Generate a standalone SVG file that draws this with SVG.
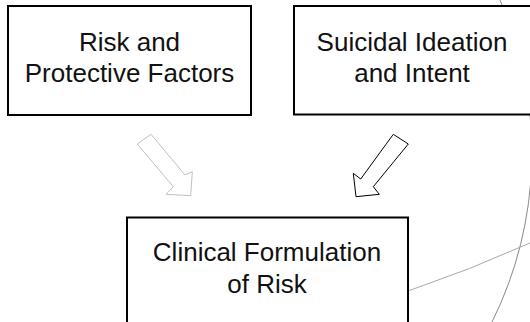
<svg xmlns="http://www.w3.org/2000/svg" width="530" height="322" viewBox="0 0 530 322">
<style>
.box{fill:#fff;stroke:#000;stroke-width:2}
.lbl{font-family:"Liberation Sans",Arial,sans-serif;font-size:26px;fill:#111;text-anchor:middle}
.arrow-light{fill:#fff;stroke:#c0c0c0;stroke-width:1}
.arrow-dark{fill:#fff;stroke:#000;stroke-width:1}
.bg{fill:none;stroke-width:1}
</style>
<rect width="530" height="322" fill="#fff"/>
<g id="background">
<path class="bg" stroke="#8a8a8a" d="M500,0 A380.5,380.5 0 0 1 492,322"/>
<path class="bg" stroke="#a8a8a8" d="M408,291 Q470,270 530,243"/>
</g>
<g id="connectors">
<polygon class="arrow-light" points="151,134.3 185,175 192.3,171.7 190.7,195.7 166,194.3 173.3,186.7 137.3,144"/>
<polygon class="arrow-dark" points="393.3,134.3 408.3,144 373.3,186.7 379.3,194.3 356,196.7 353.3,173.3 360.7,179"/>
</g>
<g id="risk-protective">
<rect class="box" x="8" y="6" width="243" height="109"/>
<text class="lbl" x="129.5" y="51">Risk and</text>
<text class="lbl" x="129.5" y="81.7">Protective Factors</text>
</g>
<g id="suicidal-ideation">
<rect class="box" x="294" y="6" width="240" height="108.5"/>
<text class="lbl" x="412" y="50.7">Suicidal Ideation</text>
<text class="lbl" x="412" y="81.7">and Intent</text>
</g>
<g id="clinical-formulation">
<rect class="box" x="127" y="217.5" width="281" height="120"/>
<text class="lbl" x="267" y="261">Clinical Formulation</text>
<text class="lbl" x="267" y="293">of Risk</text>
</g>
</svg>
